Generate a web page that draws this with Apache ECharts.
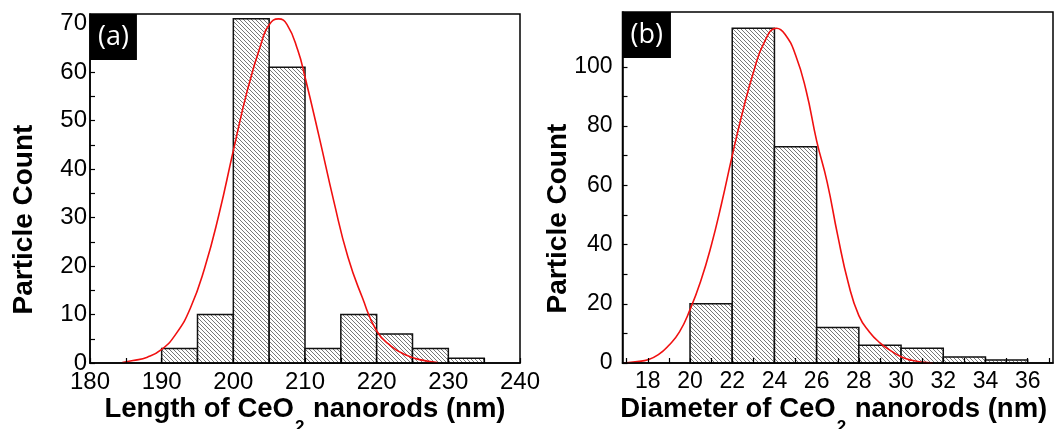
<!DOCTYPE html>
<html>
<head>
<meta charset="utf-8">
<title>CeO2 nanorod size distribution</title>
<script src="https://cdn.jsdelivr.net/npm/echarts@6/dist/echarts.min.js"></script>
<style>
  html, body { margin: 0; padding: 0; background: #fff; }
  #main { width: 1055px; height: 429px; }
</style>
</head>
<body>
<div id="main"></div>
<script>
// (a) length histogram, 5 nm bins
const lenBinStart = [190, 195, 200, 205, 210, 215, 220, 225, 230];
const lenCounts = [3, 10, 71, 61, 3, 10, 6, 3, 1];
const lenBinWidth = 5;
// red fit curve
const lenFitX = [184.5, 186, 188, 190, 192, 194, 196, 198, 200, 202, 204, 205, 206.3, 207.5, 209, 210, 212, 214, 216, 218, 220, 222, 224, 226, 228.5];
const lenFitY = [0.1, 0.5, 1.2, 2.8, 6, 11.3, 19.6, 30.7, 43.8, 56.5, 66.5, 69.8, 71, 69.8, 64.5, 59, 46.5, 33.5, 21.8, 13.5, 6.6, 3.5, 1.7, 0.7, 0.1];
const lenTickLabels = [180, 190, 200, 210, 220, 230, 240];
const lenTicks = [180, 185, 190, 195, 200, 205, 210, 215, 220, 225, 230, 235, 240];
const lenCountLabels = [0, 10, 20, 30, 40, 50, 60, 70];
const lenCountTicks = [0, 5, 10, 15, 20, 25, 30, 35, 40, 45, 50, 55, 60, 65, 70];

// (b) diameter histogram, 2 nm bins
const diaBinStart = [20, 22, 24, 26, 28, 30, 32, 34];
const diaCounts = [20, 113, 73, 12, 6, 5, 2, 1];
const diaBinWidth = 2;
const diaFitX = [16.9, 17.5, 18, 18.5, 19, 19.5, 20, 20.5, 21, 21.5, 22, 22.5, 23, 23.5, 24.1, 24.5, 25, 25.5, 26, 26.5, 27, 27.5, 28, 28.5, 29, 29.5, 30, 30.5, 31, 31.5];
const diaFitY = [0, 0.5, 1.1, 2.8, 6, 10.5, 18, 27.5, 39.5, 54, 70, 85, 98, 108, 113, 111, 104, 92, 75, 61, 43, 27, 16, 10.5, 6.8, 4.2, 2.1, 0.9, 0.3, 0];
const diaTickLabels = [18, 20, 22, 24, 26, 28, 30, 32, 34, 36];
const diaTicks = [17, 18, 19, 20, 21, 22, 23, 24, 25, 26, 27, 28, 29, 30, 31, 32, 33, 34, 35, 36, 37];
const diaCountLabels = [0, 20, 40, 60, 80, 100];
const diaCountTicks = [0, 10, 20, 30, 40, 50, 60, 70, 80, 90, 100, 110];

// diagonal hatch used to fill the bars
const tile = document.createElement('canvas');
tile.width = 8;
tile.height = 8;
const tctx = tile.getContext('2d');
tctx.fillStyle = '#fff';
tctx.fillRect(0, 0, 8, 8);
tctx.strokeStyle = '#555';
tctx.lineWidth = 0.8;
[-8, -4, 0, 4, 8].forEach(c => {
    tctx.beginPath();
    tctx.moveTo(c, 0);
    tctx.lineTo(c + 8, 8);
    tctx.stroke();
});
const hatch = { image: tile, repeat: 'repeat' };

const FONT = 'Liberation Sans';

function histItem(params, api) {
    let p0 = api.coord([api.value(0), api.value(2)]);
    let p1 = api.coord([api.value(1), 0]);
    return {
        type: 'rect',
        shape: { x: p0[0], y: p0[1], width: p1[0] - p0[0], height: p1[1] - p0[1] },
        style: { fill: hatch, stroke: '#111', lineWidth: 1.5 }
    };
}

function xAxisOf(idx, min, max, ticks, labels, name, fontSize, namePad) {
    return {
        gridIndex: idx,
        type: 'value',
        min: min,
        max: max,
        z: 10,
        axisLine: { onZero: false, lineStyle: { color: '#000', width: 1.5 } },
        axisTick: { inside: true, length: 5, customValues: ticks, lineStyle: { color: '#000', width: 1.2 } },
        axisLabel: { customValues: labels, margin: 7, color: '#000', fontSize: fontSize, fontFamily: FONT },
        splitLine: { show: false },
        name: name,
        nameLocation: 'middle',
        nameGap: 32,
        nameMoveOverlap: false,
        nameTextStyle: {
            padding: namePad,
            rich: {
                n: { fontSize: 27.5, fontWeight: 'bold', fontFamily: FONT, color: '#000' },
                s: { fontSize: 17, fontWeight: 'bold', fontFamily: FONT, color: '#000', lineHeight: 17, padding: [36, 1, 0, 1] }
            }
        }
    };
}

function yAxisOf(idx, max, ticks, labels, margin, fontSize, gap) {
    return {
        gridIndex: idx,
        type: 'value',
        min: 0,
        max: max,
        z: 10,
        axisLine: { show: true, lineStyle: { color: '#000', width: 1.5 } },
        axisTick: { show: true, inside: true, length: 5, customValues: ticks, lineStyle: { color: '#000', width: 1.2 } },
        axisLabel: { customValues: labels, margin: margin, color: '#000', fontSize: fontSize, fontFamily: FONT },
        splitLine: { show: false },
        name: 'Particle Count',
        nameLocation: 'middle',
        nameGap: gap,
        nameMoveOverlap: false,
        nameTextStyle: { fontSize: 28, fontWeight: 'bold', fontFamily: FONT, color: '#000', padding: [0, 62, 0, 0] }
    };
}

function panelTag(text, left, top) {
    return {
        text: text,
        left: left,
        top: top,
        backgroundColor: '#000',
        padding: [9, 8, 9, 8],
        textStyle: { color: '#fff', fontSize: 27, fontWeight: 'normal', fontFamily: 'Open Sans', lineHeight: 28 }
    };
}

let myChart = echarts.init(document.getElementById('main'));
let option = {
    animation: false,
    backgroundColor: '#fff',
    title: [panelTag('(a)', 90, 14), panelTag('(b)', 622.5, 12)],
    grid: [
        { left: 90, top: 14, width: 430, height: 349, outerBoundsMode: 'none', show: true, borderColor: '#000', borderWidth: 1.5 },
        { left: 622.5, top: 12, width: 430.5, height: 351, outerBoundsMode: 'none', show: true, borderColor: '#000', borderWidth: 1.5 }
    ],
    xAxis: [
        xAxisOf(0, 180, 240, lenTicks, lenTickLabels, '{n|Length of CeO}{s|2}{n| nanorods (nm)}', 24, 0),
        xAxisOf(1, 16.8, 37.2, diaTicks, diaTickLabels, '{n|Diameter of CeO}{s|2}{n| nanorods (nm)}', 23, [0, 8, 0, 0])
    ],
    yAxis: [
        yAxisOf(0, 72, lenCountTicks, lenCountLabels, 3, 24, 52),
        yAxisOf(1, 118.5, diaCountTicks, diaCountLabels, 10, 23, 50)
    ],
    series: [
        {
            type: 'custom',
            xAxisIndex: 0,
            yAxisIndex: 0,
            renderItem: histItem,
            encode: { x: [0, 1], y: 2 },
            data: lenBinStart.map((b, i) => [b, b + lenBinWidth, lenCounts[i]])
        },
        {
            type: 'line',
            xAxisIndex: 0,
            yAxisIndex: 0,
            data: lenFitX.map((x, i) => [x, lenFitY[i]]),
            showSymbol: false,
            smooth: true,
            z: 5,
            lineStyle: { color: '#f01010', width: 1.6 }
        },
        {
            type: 'custom',
            xAxisIndex: 1,
            yAxisIndex: 1,
            renderItem: histItem,
            encode: { x: [0, 1], y: 2 },
            data: diaBinStart.map((b, i) => [b, b + diaBinWidth, diaCounts[i]])
        },
        {
            type: 'line',
            xAxisIndex: 1,
            yAxisIndex: 1,
            data: diaFitX.map((x, i) => [x, diaFitY[i]]),
            showSymbol: false,
            smooth: true,
            z: 5,
            lineStyle: { color: '#f01010', width: 1.6 }
        }
    ]
};
myChart.setOption(option);
</script>
</body>
</html>
